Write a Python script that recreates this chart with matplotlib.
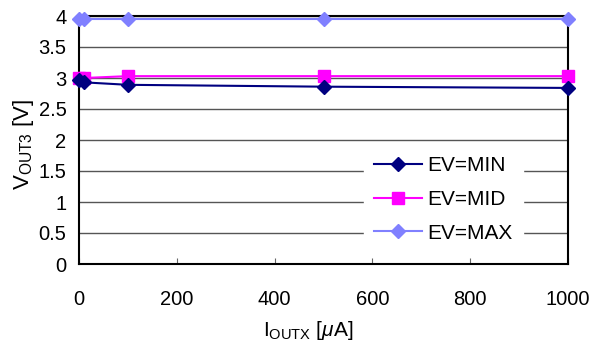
import matplotlib
matplotlib.use("Agg")
import matplotlib.pyplot as plt

plt.rcParams["font.family"] = ["Liberation Sans", "DejaVu Sans"]
plt.rcParams["mathtext.fontset"] = "custom"
plt.rcParams["mathtext.rm"] = "Liberation Sans"
plt.rcParams["mathtext.it"] = "Liberation Sans:italic"

# load current [uA]
iout = [0, 10, 100, 500, 1000]

# output voltage [V]
ev_min = [2.96, 2.93, 2.89, 2.86, 2.84]
ev_mid = [3.00, 3.00, 3.03, 3.03, 3.03]
ev_max = [3.95, 3.95, 3.95, 3.95, 3.95]

labels = ["EV=MIN", "EV=MID", "EV=MAX"]

fig = plt.figure(figsize=(5.98, 3.42), dpi=100)
ax = fig.add_axes([79 / 598, 1 - 264 / 342, (568 - 79) / 598, (264 - 16) / 342])

ax.plot(iout, ev_min, color="#000080", marker="D", markersize=7, lw=1.5,
        label=labels[0], clip_on=False, zorder=5)
ax.plot(iout, ev_mid, color="#FF00FF", marker="s", markersize=9, lw=1.5,
        label=labels[1], clip_on=False, zorder=4)
ax.plot(iout, ev_max, color="#8080FF", marker="D", markersize=7, lw=1.5,
        label=labels[2], clip_on=False, zorder=4)

ax.set_xlim(0, 1000)
ax.set_ylim(0, 4)
ax.set_xticks([0, 200, 400, 600, 800, 1000])
ax.set_yticks([0, 0.5, 1, 1.5, 2, 2.5, 3, 3.5, 4])
ax.set_yticklabels(["0", "0.5", "1", "1.5", "2", "2.5", "3", "3.5", "4"])
ax.grid(axis="y", color="#555555", lw=1)
ax.set_axisbelow(True)

for s in ax.spines.values():
    s.set_linewidth(1.5)
    s.set_color("black")

ax.tick_params(axis="x", direction="in", length=4, width=0.8, colors="#666666",
               labelcolor="black", labelsize=14.5, pad=19)
ax.tick_params(axis="y", length=0, labelsize=14.5, pad=9)

ax.set_xlabel(r"I$_{\mathregular{OUTX}}$ [$\mathit{\mu}$A]", fontsize=15)
ax.set_ylabel(r"V$_{\mathregular{OUT3}}$ [V]", fontsize=16)
ax.xaxis.set_label_coords(0.468, -0.22)
ax.yaxis.set_label_coords(-0.088, 0.48)

leg = ax.legend(loc="center", bbox_to_anchor=(0.745, 0.26), frameon=True,
                fontsize=15, handlelength=2.3, labelspacing=0.7, borderpad=0.5,
                handletextpad=0.25, borderaxespad=0, fancybox=False)
leg.get_frame().set_edgecolor("white")
leg.get_frame().set_facecolor("white")
leg.get_frame().set_alpha(1)

fig.savefig("out.png", dpi=100)
